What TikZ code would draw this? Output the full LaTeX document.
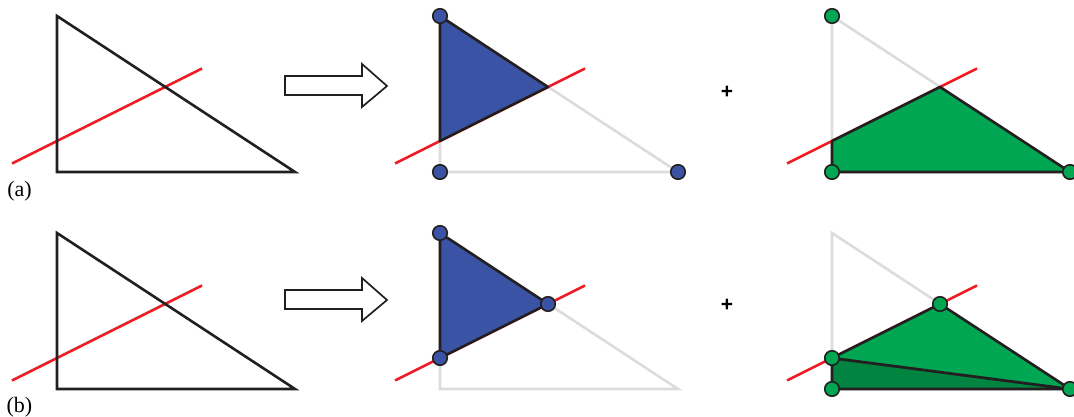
\documentclass[tikz,border=0pt]{standalone}
\usepackage{fontspec}
\setmainfont{Liberation Serif}
\newfontfamily\plusfont{Liberation Sans}
\definecolor{cutred}{HTML}{ED1C24}
\definecolor{ghost}{HTML}{DCDCDC}
\definecolor{bluefill}{HTML}{3A53A4}
\definecolor{greenfill}{HTML}{00A651}
\definecolor{darkgreen}{HTML}{00843F}
\definecolor{edge}{HTML}{231F20}
\newcommand\panelcoords[3]{%
  \coordinate (#1T) at (#2,#3-156);
  \coordinate (#1B) at (#2,#3);
  \coordinate (#1R) at (#2+238,#3);
  \coordinate (#1P) at (#2,#3-31);
  \coordinate (#1Q) at (#2+108,#3-85);
  \coordinate (#1s) at (#2-45,#3-8.5);
  \coordinate (#1e) at (#2+145,#3-103.5);
}
\tikzset{
  tri/.style={draw=edge,line width=2.6pt,line join=miter},
  ghosttri/.style={draw=ghost,line width=2.6pt},
  cut/.style={draw=cutred,line width=2.5pt},
  poly/.style={draw=edge,line width=2.6pt,line join=round},
  vdot/.style={circle,draw=edge,line width=1.6pt,minimum size=14.5pt,inner sep=0pt},
  bdot/.style={vdot,fill=bluefill},
  gdot/.style={vdot,fill=greenfill},
  blockarrow/.style={draw=edge,line width=1.7pt,fill=white,line join=miter},
  lab/.style={font=\fontsize{22}{24}\selectfont,inner sep=0pt},
  plus/.style={font=\plusfont\bfseries\fontsize{21}{23}\selectfont,inner sep=0pt}
}
\begin{document}
\begin{tikzpicture}[x=1pt,y=-1pt]
\useasboundingbox (0,0) rectangle (1074,417);
% coordinates
\panelcoords{a1}{57}{172}
\panelcoords{a2}{440}{172}
\panelcoords{a3}{832}{172}
\panelcoords{b1}{57}{389}
\panelcoords{b2}{440}{389}
\panelcoords{b3}{832}{389}
% ---- left panels
\foreach \p in {a1,b1}{
  \draw[cut] (\p s) -- (\p e);
  \draw[tri] (\p T) -- (\p B) -- (\p R) -- cycle;
}
% ---- arrows
\draw[blockarrow] (285,76) -- (362,76) -- (362,64) -- (387,86) -- (362,107) -- (362,95) -- (285,95) -- cycle;
\draw[blockarrow] (285,290) -- (362,290) -- (362,278) -- (387,300) -- (362,321) -- (362,309) -- (285,309) -- cycle;
% ---- middle and right panels: ghost triangle and cut line
\foreach \p in {a2,b2,a3,b3}{
  \draw[ghosttri] (\p T) -- (\p B) -- (\p R) -- cycle;
  \draw[cut] (\p s) -- (\p e);
}
\filldraw[poly,fill=bluefill] (a2T) -- (a2Q) -- (a2P) -- cycle;
\filldraw[poly,fill=bluefill] (b2T) -- (b2Q) -- (b2P) -- cycle;
\filldraw[poly,fill=greenfill] (a3P) -- (a3Q) -- (a3R) -- (a3B) -- cycle;
\filldraw[poly,fill=darkgreen] (b3P) -- (b3R) -- (b3B) -- cycle;
\filldraw[poly,fill=greenfill] (b3P) -- (b3Q) -- (b3R) -- cycle;
% ---- dots
\node[bdot] (da2T) at (a2T) {};
\node[bdot] (da2B) at (a2B) {};
\node[bdot] (da2R) at (a2R) {};
\node[bdot] (db2T) at (b2T) {};
\node[bdot] (db2P) at (b2P) {};
\node[bdot] (db2Q) at (b2Q) {};
\node[gdot] (da3T) at (a3T) {};
\node[gdot] (da3B) at (a3B) {};
\node[gdot] (da3R) at (a3R) {};
\node[gdot] (db3P) at (b3P) {};
\node[gdot] (db3Q) at (b3Q) {};
\node[gdot] (db3B) at (b3B) {};
\node[gdot] (db3R) at (b3R) {};
% ---- labels
\node[lab] (la) at (19.5,191) {(a)};
\node[lab] (lb) at (19.5,407) {(b)};
\node[plus] (pa) at (727,92) {+};
\node[plus] (pb) at (727,305) {+};
\end{tikzpicture}
\end{document}
